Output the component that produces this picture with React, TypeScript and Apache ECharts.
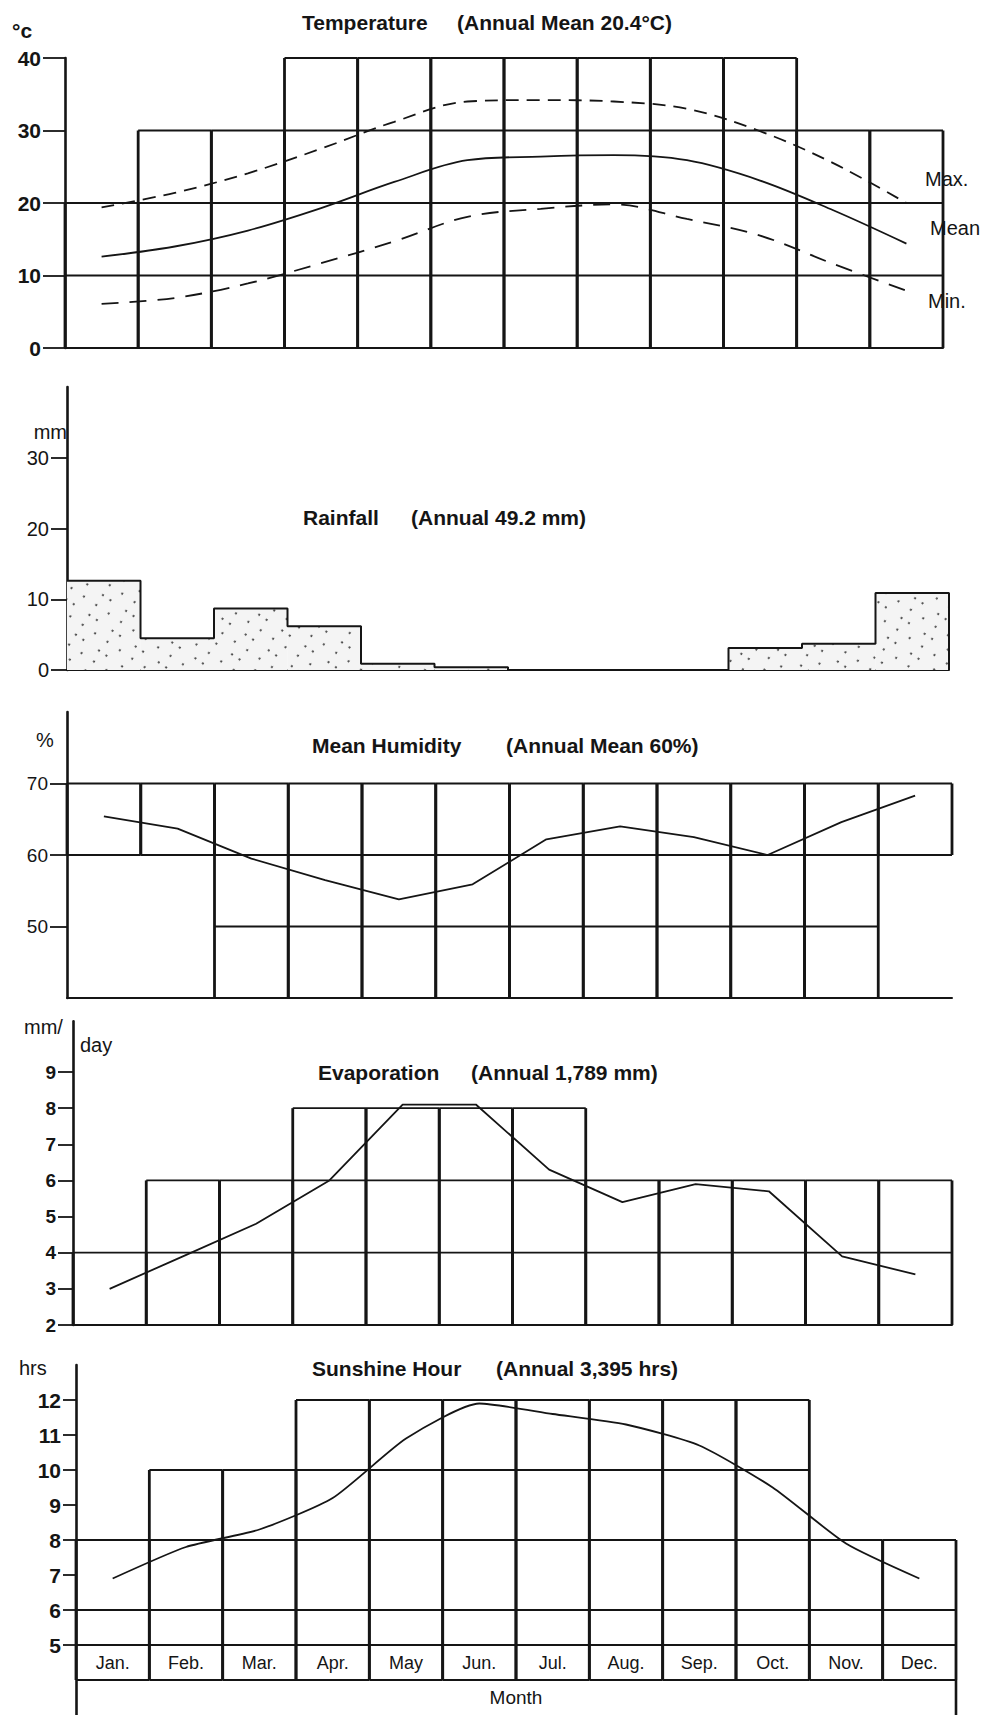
import React, { useEffect, useRef } from 'react';
import * as echarts from 'echarts';

// ---------------- data ----------------
const months = ['Jan.', 'Feb.', 'Mar.', 'Apr.', 'May', 'Jun.', 'Jul.', 'Aug.', 'Sep.', 'Oct.', 'Nov.', 'Dec.'];

const tempMax = [19.4, 21.4, 24.1, 27.5, 31.2, 34.0, 34.2, 34.0, 33.0, 29.9, 25.5, 20.0];
const tempMean = [12.6, 14.0, 16.2, 19.3, 22.9, 25.9, 26.4, 26.6, 25.9, 23.1, 19.0, 14.4];
const tempMin = [6.1, 6.9, 8.9, 11.7, 14.7, 18.1, 19.2, 19.8, 17.8, 15.5, 11.6, 7.9];
const tempFrameBottom = [0, 0, 0, 0, 0, 0, 0, 0, 0, 0, 0, 0];
const tempFrameTop = [20, 30, 30, 40, 40, 40, 40, 40, 40, 40, 30, 30];
const tempLevels = [0, 10, 20, 30, 40];
const tempTicks = [0, 10, 20, 30, 40];

const rainfall = [12.6, 4.5, 8.7, 6.2, 0.9, 0.4, 0, 0, 0, 3.1, 3.7, 10.9];
const rainTicks = [0, 10, 20, 30];

const humidity = [65.4, 63.7, 59.5, 56.5, 53.8, 55.9, 62.2, 64.0, 62.5, 60.0, 64.6, 68.3];
const humFrameBottom = [60, 60, 40, 40, 40, 40, 40, 40, 40, 40, 40, 60];
const humFrameTop = [70, 70, 70, 70, 70, 70, 70, 70, 70, 70, 70, 70];
const humLevels = [40, 50, 60, 70];
const humTicks = [50, 60, 70];

const evaporation = [3.0, 3.9, 4.8, 6.0, 8.1, 8.1, 6.3, 5.4, 5.9, 5.7, 3.9, 3.4];
const evapFrameBottom = [2, 2, 2, 2, 2, 2, 2, 2, 2, 2, 2, 2];
const evapFrameTop = [4, 6, 6, 8, 8, 8, 8, 6, 6, 6, 6, 6];
const evapLevels = [2, 4, 6, 8];
const evapTicks = [2, 3, 4, 5, 6, 7, 8, 9];

const sunshine = [6.9, 7.8, 8.3, 9.2, 10.9, 11.9, 11.6, 11.3, 10.7, 9.5, 7.9, 6.9];
const sunFrameBottom = [4, 4, 4, 4, 4, 4, 4, 4, 4, 4, 4, 4];
const sunFrameTop = [8, 10, 10, 12, 12, 12, 12, 12, 12, 12, 8, 8];
const sunLevels = [4, 5, 6, 8, 10, 12];
const sunTicks = [5, 6, 7, 8, 9, 10, 11, 12];
const monthRowBottom = 3;

// ---------------- layout / style ----------------
const FONT = "'Liberation Sans', Arial, Helvetica, sans-serif";
const INK = '#151515';

type Panel = {
  left: number; width: number; top: number; height: number;
  min: number; max: number; interval: number; ticks: number[];
  tickLen: number; fontSize: number; fontWeight: string;
};

const panels: Panel[] = [
  { left: 65, width: 878, top: 58, height: 290, min: 0, max: 40, interval: 10, ticks: tempTicks, tickLen: 22, fontSize: 21, fontWeight: 'bold' },
  { left: 67, width: 882, top: 387, height: 283, min: 0, max: 40, interval: 10, ticks: rainTicks, tickLen: 16, fontSize: 20, fontWeight: 'normal' },
  { left: 67, width: 885, top: 712, height: 286, min: 40, max: 80, interval: 10, ticks: humTicks, tickLen: 17, fontSize: 19, fontWeight: 'normal' },
  { left: 73, width: 879, top: 1021.4, height: 303.6, min: 2, max: 10.4, interval: 1, ticks: evapTicks, tickLen: 15, fontSize: 19, fontWeight: 'bold' },
  { left: 76, width: 880, top: 1365, height: 353, min: 3, max: 13, interval: 1, ticks: sunTicks, tickLen: 13, fontSize: 21, fontWeight: 'bold' },
];

// frame of boxes per month drawn through the axes (custom series)
function frameSeries(g: number, bottoms: number[], tops: number[], levels: number[], labelRow = false) {
  return {
    type: 'custom', xAxisIndex: 2 * g, yAxisIndex: g, silent: true, z: 2, clip: false,
    encode: { x: 0, y: [1, 2] },
    data: months.map((_m, i) => [i, bottoms[i], tops[i]]),
    renderItem: (_params: any, api: any) => {
      const i = api.value(0);
      const lo = api.value(1);
      const hi = api.value(2);
      const w = api.size([1, 0])[0];
      const cLo = api.coord([i, lo]);
      const cHi = api.coord([i, hi]);
      const x0 = cLo[0] - w / 2;
      const x1 = cLo[0] + w / 2;
      const children: any[] = [];
      levels.filter((l) => l >= lo && l <= hi).forEach((l) => {
        const y = api.coord([i, l])[1];
        children.push({ type: 'line', shape: { x1: x0, y1: y, x2: x1, y2: y }, style: { stroke: INK, lineWidth: 1.8 } });
      });
      [x0, x1].forEach((x) => {
        children.push({ type: 'line', shape: { x1: x, y1: cLo[1], x2: x, y2: cHi[1] }, style: { stroke: INK, lineWidth: 2.8 } });
      });
      if (labelRow) {
        const yMid = (api.coord([i, levels[0]])[1] + api.coord([i, levels[1]])[1]) / 2;
        children.push({
          type: 'text', x: cLo[0], y: yMid,
          style: { text: months[i], font: `normal 18px ${FONT}`, fill: INK, align: 'center', verticalAlign: 'middle' },
        });
      }
      return { type: 'group', children };
    },
  };
}

function txt(text: string, x: number, y: number, size: number, weight = 'bold', align = 'left') {
  return {
    type: 'text', x, y, z: 20, silent: true,
    style: { text, font: `${weight} ${size}px ${FONT}`, fill: INK, align, verticalAlign: 'middle' },
  };
}

function buildOption() {
  const grid = panels.map((p) => ({ left: p.left, top: p.top, width: p.width, height: p.height }));

  const xAxis: any[] = [];
  panels.forEach((_p, g) => {
    xAxis.push({
      type: 'category', gridIndex: g, data: months, boundaryGap: true,
      axisLine: { show: g !== 4, onZero: false, lineStyle: { color: INK, width: 2 } },
      axisTick: { show: false }, axisLabel: { show: false }, splitLine: { show: false },
    });
    xAxis.push({ type: 'value', gridIndex: g, min: 0, max: 12, show: false });
  });

  const yAxis = panels.map((p, g) => ({
    type: 'value', gridIndex: g, min: p.min, max: p.max, interval: p.interval,
    axisLine: { show: true, lineStyle: { color: INK, width: 2.6 } },
    axisTick: { show: true, length: p.tickLen, customValues: p.ticks, lineStyle: { color: INK, width: 1.8 } },
    axisLabel: {
      show: true, customValues: p.ticks, margin: p.tickLen + 2, fontSize: p.fontSize, fontWeight: p.fontWeight,
      fontFamily: FONT, color: INK,
      formatter: (v: number) => (p.ticks.includes(Math.round(v * 100) / 100) ? String(v) : ''),
    },
    splitLine: { show: false },
  }));

  const rainStep: number[][] = [];
  rainfall.forEach((v, i) => { rainStep.push([i, v], [i + 1, v]); });
  rainStep.push([rainfall.length, 0]);

  const line = (xi: number, yi: number, data: any[], extra: any = {}) => ({
    type: 'line', xAxisIndex: xi, yAxisIndex: yi, data, symbol: 'none', silent: true, z: 4,
    lineStyle: { color: INK, width: 1.8, ...(extra.lineStyle || {}) },
    smooth: extra.smooth ?? false,
  });

  const series: any[] = [
    frameSeries(0, tempFrameBottom, tempFrameTop, tempLevels),
    line(0, 0, tempMax, { smooth: 0.35, lineStyle: { type: [13, 8] } }),
    line(0, 0, tempMean, { smooth: 0.35 }),
    line(0, 0, tempMin, { smooth: 0.35, lineStyle: { type: [17, 11] } }),

    {
      type: 'bar', xAxisIndex: 2, yAxisIndex: 1, data: rainfall, barCategoryGap: '0%', silent: true, z: 1,
      itemStyle: {
        color: '#f4f4f4',
        decal: { symbol: 'circle', symbolSize: 1, dashArrayX: [[2, 13], [2, 7, 2, 17]], dashArrayY: [2, 10], rotation: 0.6, color: '#333' },
      },
    },
    line(3, 1, rainStep, { lineStyle: { width: 2 } }),

    frameSeries(2, humFrameBottom, humFrameTop, humLevels),
    line(4, 2, humidity),

    frameSeries(3, evapFrameBottom, evapFrameTop, evapLevels),
    line(6, 3, evaporation),

    frameSeries(4, sunFrameBottom, sunFrameTop, sunLevels, true),
    line(8, 4, sunshine, { smooth: 0.2 }),
    line(9, 4, [[months.length, sunLevels[0]], [months.length, monthRowBottom]], { lineStyle: { width: 2.6 } }),
  ];

  const graphic = [
    txt('Temperature', 302, 22, 21),
    txt('(Annual Mean 20.4°C)', 457, 22, 21),
    txt('°c', 12, 30, 21),
    txt('Max.', 925, 179, 20, 'normal'),
    txt('Mean', 930, 228, 20, 'normal'),
    txt('Min.', 928, 301, 20, 'normal'),

    txt('Rainfall', 303, 517, 21),
    txt('(Annual 49.2 mm)', 411, 517, 21),
    txt('mm', 67, 432, 20, 'normal', 'right'),

    txt('Mean Humidity', 312, 745, 21),
    txt('(Annual Mean 60%)', 506, 745, 21),
    txt('%', 36, 740, 20, 'normal'),

    txt('Evaporation', 318, 1072, 21),
    txt('(Annual 1,789 mm)', 471, 1072, 21),
    txt('mm/', 24, 1027, 20, 'normal'),
    txt('day', 80, 1045, 20, 'normal'),

    txt('Sunshine Hour', 312, 1368, 21),
    txt('(Annual 3,395 hrs)', 496, 1368, 21),
    txt('hrs', 19, 1368, 20, 'normal'),
    txt('Month', 516, 1697, 19, 'normal', 'center'),
  ];

  return {
    animation: false,
    backgroundColor: '#ffffff',
    textStyle: { fontFamily: FONT },
    grid, xAxis, yAxis, series, graphic,
  };
}

export default function App() {
  const ref = useRef<HTMLDivElement>(null);
  useEffect(() => {
    document.body.style.margin = '0';
    const chart = echarts.init(ref.current as HTMLDivElement, null, { renderer: 'svg' });
    chart.setOption(buildOption() as any);
    return () => chart.dispose();
  }, []);
  return <div ref={ref} style={{ width: 999, height: 1715, background: '#fff' }} />;
}
